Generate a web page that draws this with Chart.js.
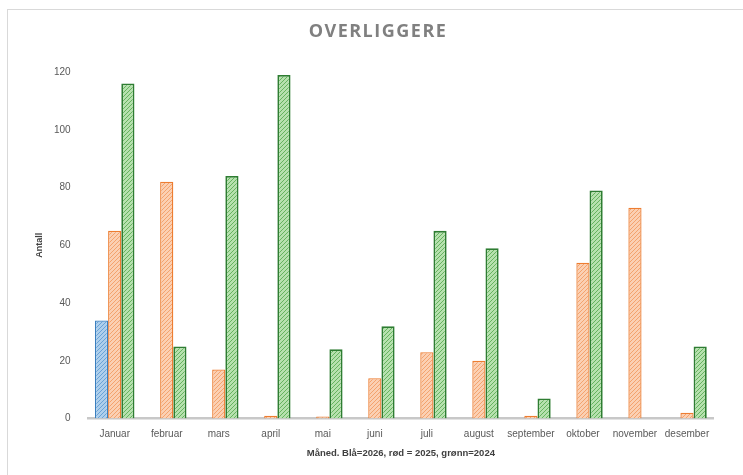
<!DOCTYPE html>
<html>
<head>
<meta charset="utf-8">
<script src="https://cdn.jsdelivr.net/npm/chart.js@4.4.1/dist/chart.umd.min.js"></script>
<style>
    body { margin: 0; background: #fff; }
    #wrap { position: relative; width: 743px; height: 475px; overflow: hidden; }
    #frame { position: absolute; left: 7px; top: 9px; width: 800px; height: 500px;
             border-left: 1px solid #d9d9d9; border-top: 1px solid #d9d9d9; }
    canvas { position: absolute; left: 0; top: 0; }
</style>
</head>
<body>
<div id="wrap">
    <div id="frame"></div>
    <canvas id="chart" width="743" height="475"></canvas>
</div>
<script>
const months = ['Januar', 'februar', 'mars', 'april', 'mai', 'juni', 'juli', 'august', 'september', 'oktober', 'november', 'desember'];

// blå = 2026, rød = 2025, grønn = 2024
const values2026 = [34, null, null, null, null, null, null, null, null, null, null, null];
const values2025 = [65, 82, 17, 1, 0, 14, 23, 20, 1, 54, 73, 2];
const values2024 = [116, 25, 84, 119, 24, 32, 65, 59, 7, 79, null, 25];

const yTicks = [0, 20, 40, 60, 80, 100, 120];

const chartTitle = 'OVERLIGGERE';
const xTitle = 'Måned. Blå=2026, rød = 2025, grønn=2024';
const yTitle = 'Antall';

// diagonal hatch like the excel pattern fill
function hatch(bg, line) {
    const c = document.createElement('canvas');
    c.width = 4;
    c.height = 4;
    const g = c.getContext('2d');
    g.fillStyle = bg;
    g.fillRect(0, 0, 4, 4);
    g.strokeStyle = line;
    g.lineWidth = 1;
    g.beginPath();
    g.moveTo(0, 4); g.lineTo(4, 0);
    g.moveTo(-1, 1); g.lineTo(1, -1);
    g.moveTo(3, 5); g.lineTo(5, 3);
    g.stroke();
    return g.createPattern(c, 'repeat');
}

// chart title and y title drawn by hand so they sit where excel put them
const titlePlugin = {
    id: 'bigTitle',
    afterDraw(chart) {
        const g = chart.ctx;
        g.save();
        g.font = 'bold 18px "Open Sans"';
        g.fillStyle = '#808080';
        g.textAlign = 'center';
        g.textBaseline = 'middle';
        g.letterSpacing = '1.5px';
        g.fillText(chartTitle, 378, 32);
        g.restore();

        const area = chart.chartArea;
        g.save();
        g.translate(40, (area.top + area.bottom) / 2);
        g.rotate(-Math.PI / 2);
        g.font = 'bold 9px "Liberation Sans"';
        g.fillStyle = '#404040';
        g.textAlign = 'center';
        g.textBaseline = 'middle';
        g.fillText(yTitle, 0, 0);
        g.restore();
    }
};

const ctx = document.getElementById('chart');
const chart = new Chart(ctx, {
    type: 'bar',
    data: {
        labels: months,
        datasets: [
            {
                label: '2026',
                data: values2026,
                backgroundColor: hatch('#aecfec', '#6aa3d6'),
                borderColor: '#3a7fbf',
                borderWidth: 1.3
            },
            {
                label: '2025',
                data: values2025,
                backgroundColor: hatch('#fbd0b3', '#f3a36e'),
                borderColor: '#ed7d31',
                borderWidth: 1.3,
                minBarLength: 2
            },
            {
                label: '2024',
                data: values2024,
                backgroundColor: hatch('#b6e1ae', '#66b35f'),
                borderColor: '#2e7d32',
                borderWidth: 1.8
            }
        ]
    },
    options: {
        responsive: false,
        animation: false,
        layout: {
            padding: { left: 36, right: 30, top: 72, bottom: 16 }
        },
        datasets: {
            bar: {
                categoryPercentage: 0.76,
                barPercentage: 1.0
            }
        },
        plugins: {
            legend: { display: false },
            tooltip: { enabled: false }
        },
        scales: {
            x: {
                grid: { display: false, drawTicks: false },
                border: { display: true, color: '#c8c8c8', width: 2.5 },
                ticks: {
                    color: '#595959',
                    font: { family: 'Liberation Sans', size: 10 },
                    padding: 10,
                    maxRotation: 0,
                    autoSkip: false
                },
                title: {
                    display: true,
                    text: xTitle,
                    color: '#404040',
                    font: { family: 'Liberation Sans', size: 9.5, weight: 'bold' },
                    padding: { top: -3, bottom: 0 }
                }
            },
            y: {
                min: 0,
                max: 120,
                afterBuildTicks: (axis) => {
                    axis.ticks = yTicks.map(v => ({ value: v }));
                },
                grid: { display: false, drawTicks: false },
                border: { display: false },
                ticks: {
                    color: '#595959',
                    font: { family: 'Liberation Sans', size: 10 },
                    padding: 18
                }
            }
        }
    },
    plugins: [titlePlugin]
});
</script>
</body>
</html>
